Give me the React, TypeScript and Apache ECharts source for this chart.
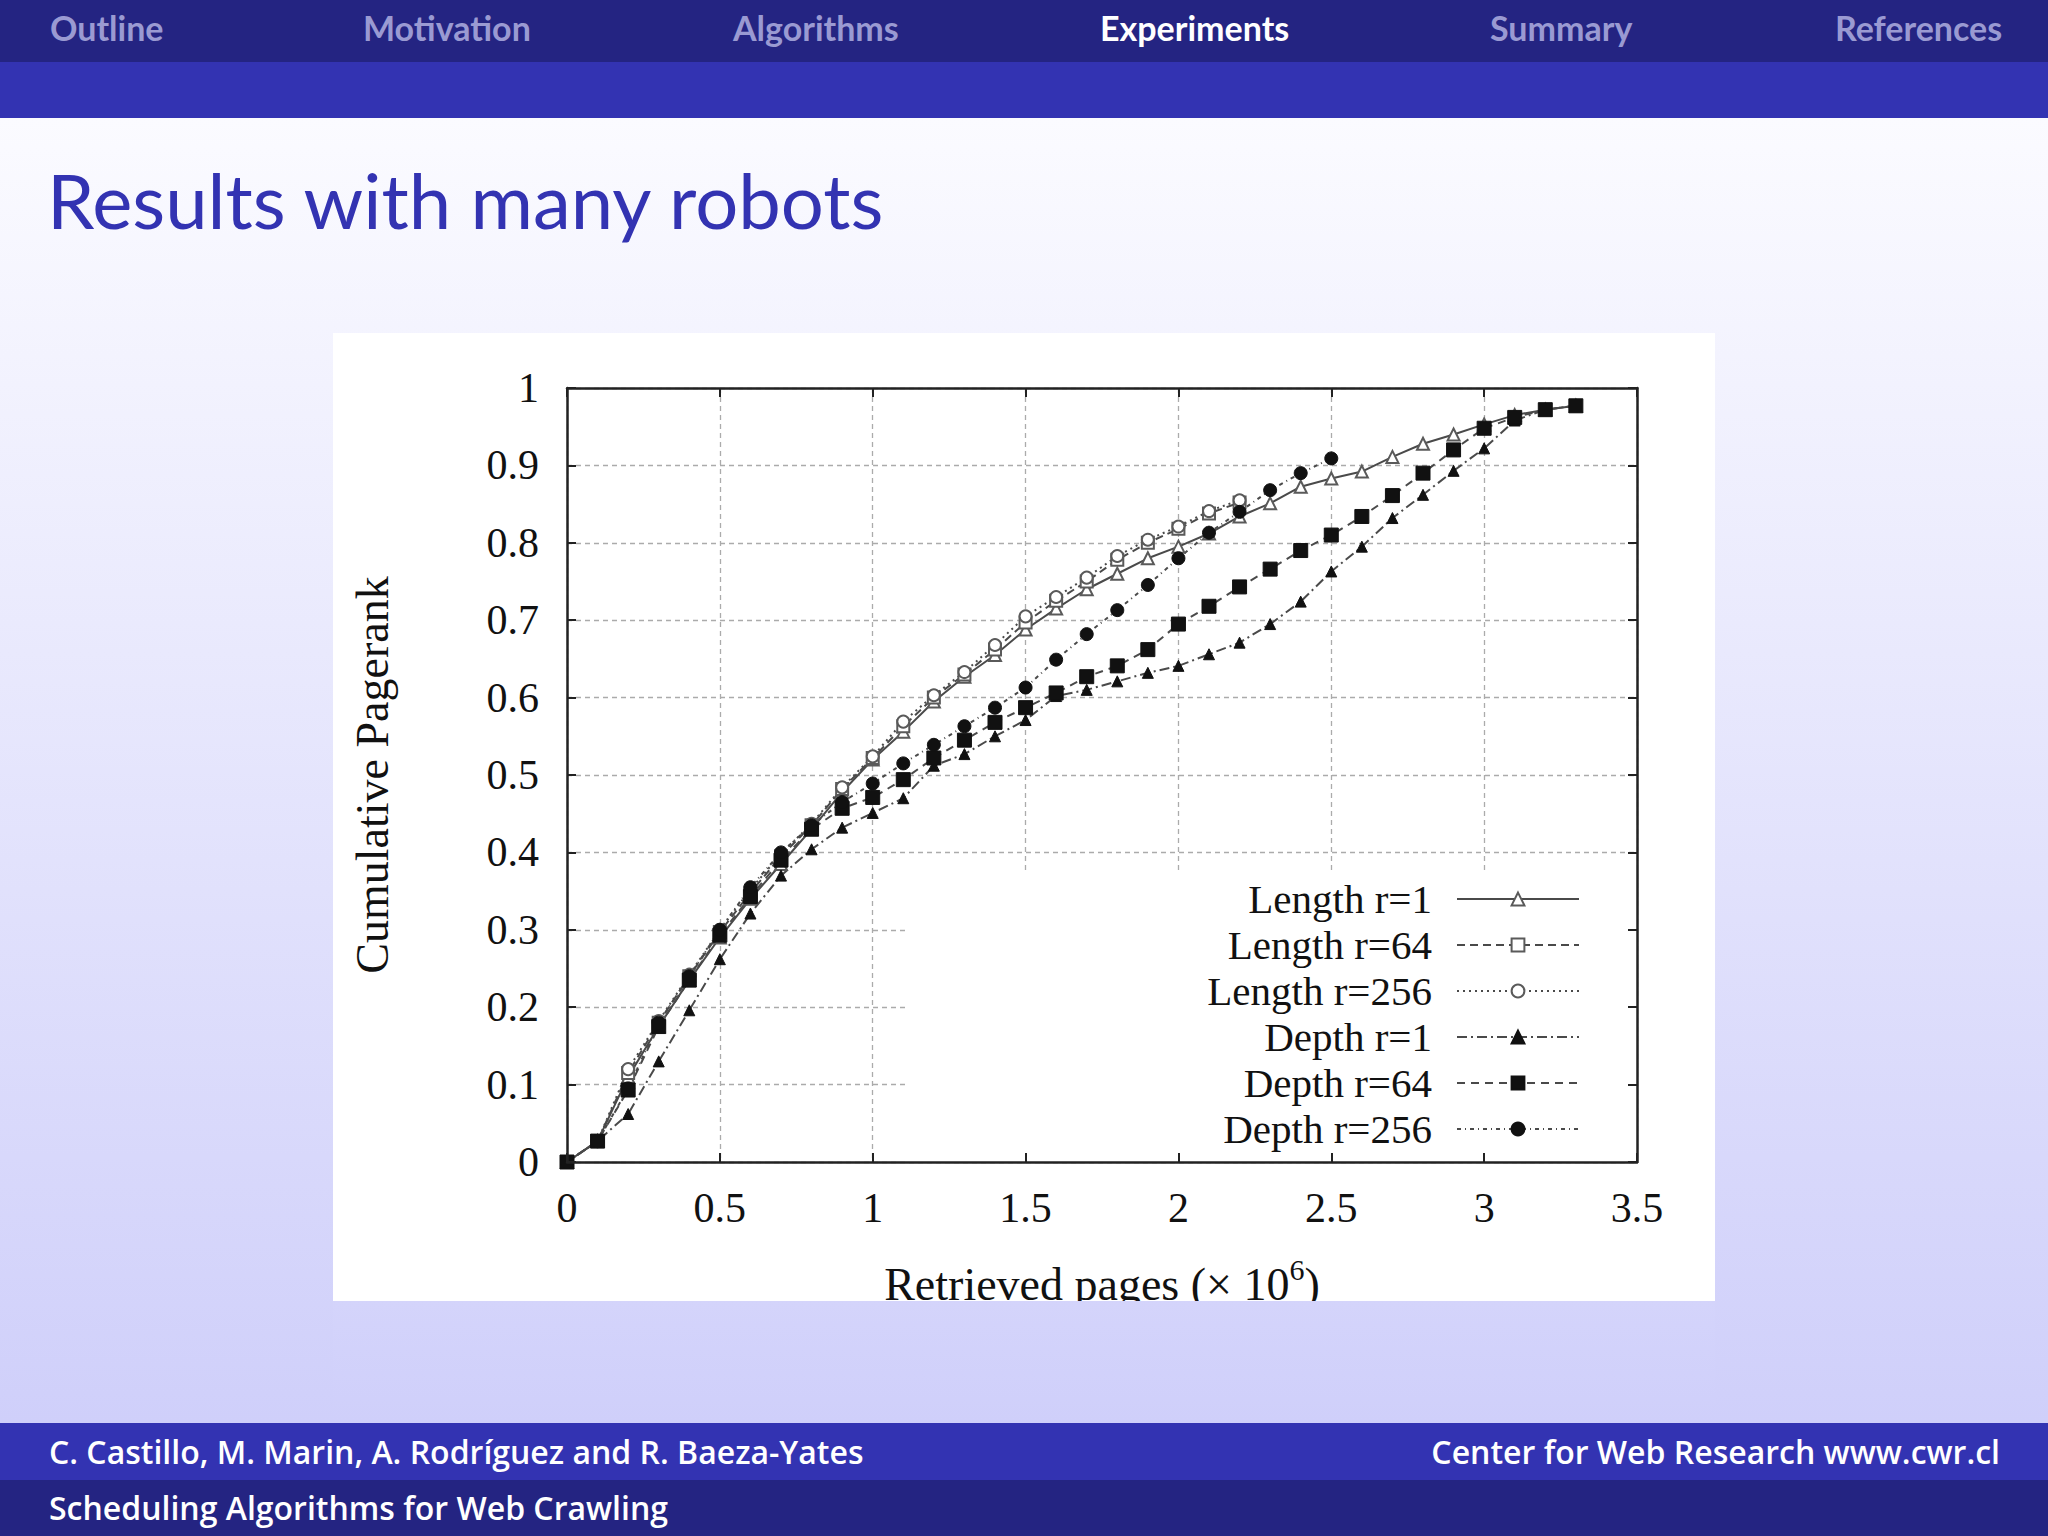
import React, { useEffect, useRef } from "react";
import * as echarts from "echarts";

// ---------- slide texts ----------
const navItems = ["Outline", "Motivation", "Algorithms", "Experiments", "Summary", "References"];
const navLeft = [50, 363, 733, 1100, 1490, 1835];
const activeNav = "Experiments";
const slideTitle = "Results with many robots";
const footerAuthors = "C. Castillo, M. Marin, A. Rodríguez and R. Baeza-Yates";
const footerCenter = "Center for Web Research www.cwr.cl";
const footerTalk = "Scheduling Algorithms for Web Crawling";

// ---------- chart data ----------
const xTickLabels = ["0", "0.5", "1", "1.5", "2", "2.5", "3", "3.5"];
const yTickLabels = ["0", "0.1", "0.2", "0.3", "0.4", "0.5", "0.6", "0.7", "0.8", "0.9", "1"];
const xAxisTitle = "Retrieved pages (× 10";
const yAxisTitle = "Cumulative Pagerank";

// retrieved pages (millions)
const pagesM = [
  0, 0.1, 0.2, 0.3, 0.4, 0.5, 0.6, 0.7, 0.8, 0.9, 1.0, 1.1, 1.2, 1.3, 1.4, 1.5, 1.6,
  1.7, 1.8, 1.9, 2.0, 2.1, 2.2, 2.3, 2.4, 2.5, 2.6, 2.7, 2.8, 2.9, 3.0, 3.1, 3.2, 3.3,
];

const seriesNames = ["Length r=1", "Length r=64", "Length r=256", "Depth r=1", "Depth r=64", "Depth r=256"];

const lengthR1 = [
  0, 0.027, 0.11, 0.175, 0.235, 0.29, 0.34, 0.385, 0.43, 0.478, 0.52, 0.556, 0.595, 0.627, 0.655, 0.688, 0.715,
  0.74, 0.76, 0.78, 0.795, 0.812, 0.834, 0.851, 0.8725, 0.883, 0.892, 0.911, 0.928, 0.94, 0.953, 0.965, 0.972, 0.977,
];
const lengthR64 = [
  0, 0.027, 0.115, 0.18, 0.24, 0.297, 0.348, 0.395, 0.435, 0.482, 0.522, 0.563, 0.6, 0.63, 0.662, 0.697, 0.725,
  0.75, 0.778, 0.8, 0.818, 0.838, 0.852,
];
const lengthR256 = [
  0, 0.027, 0.12, 0.182, 0.242, 0.3, 0.352, 0.398, 0.437, 0.484, 0.524, 0.569, 0.603, 0.633, 0.668, 0.705, 0.73,
  0.755, 0.783, 0.804, 0.821, 0.841, 0.855,
];
const depthR1 = [
  0, 0.027, 0.062, 0.13, 0.196, 0.262, 0.321, 0.37, 0.404, 0.432, 0.451, 0.47, 0.512, 0.527, 0.55, 0.571, 0.602,
  0.61, 0.621, 0.632, 0.641, 0.656, 0.671, 0.695, 0.724, 0.763, 0.795, 0.832, 0.862, 0.893, 0.922, 0.958, 0.972, 0.977,
];
const depthR64 = [
  0, 0.027, 0.093, 0.175, 0.235, 0.293, 0.343, 0.39, 0.43, 0.457, 0.471, 0.494, 0.522, 0.545, 0.568, 0.587, 0.606,
  0.627, 0.641, 0.662, 0.695, 0.718, 0.743, 0.766, 0.79, 0.81, 0.834, 0.861, 0.89, 0.92, 0.948, 0.962, 0.972, 0.977,
];
const depthR256 = [
  0, 0.027, 0.095, 0.18, 0.24, 0.3, 0.355, 0.4, 0.435, 0.465, 0.489, 0.515, 0.539, 0.563, 0.587, 0.613, 0.649,
  0.682, 0.713, 0.7455, 0.78, 0.813, 0.84, 0.868, 0.89, 0.909,
];

const SERIF = "'Liberation Serif', 'DejaVu Serif', serif";
const SANS = "Lato, 'Open Sans', sans-serif";
const FOOT = "'Open Sans', Lato, sans-serif";

const toPairs = (vals: number[]) => vals.map((v, i) => [pagesM[i], v]);

export default function App() {
  const ref = useRef<HTMLDivElement>(null);

  useEffect(() => {
    const chart = echarts.init(ref.current!, null, { renderer: "svg" });

    const GL = 567, GT = 388, GW = 1070, GH = 774;

    const lineBase = (name: string, vals: number[], lineType: any, symbol: string, size: number, filled: boolean) => ({
      type: "line",
      name,
      data: toPairs(vals),
      xAxisIndex: 0,
      yAxisIndex: 0,
      z: 3,
      symbol,
      symbolSize: size,
      showAllSymbol: true,
      lineStyle: { color: "#4a4a4a", width: 2, type: lineType },
      itemStyle: filled
        ? { color: "#111", borderColor: "#111", borderWidth: 1 }
        : { color: "#fff", borderColor: "#5a5a5a", borderWidth: 2 },
      emphasis: { disabled: true },
    });

    const frameLine = { show: true, onZero: false, lineStyle: { color: "#222", width: 2.5 } };
    const frameTick = { show: true, inside: true, length: 9, lineStyle: { color: "#222", width: 2 } };
    const labelStyle = { fontFamily: SERIF, fontSize: 42, color: "#111" };
    const gridLine = { show: true, lineStyle: { color: "#ababab", width: 1.3, type: [5, 4] } };

    const graphicEls: any[] = [
      // page background
      {
        type: "rect", z: 0, silent: true,
        shape: { x: 0, y: 118, width: 2048, height: 1305 },
        style: {
          fill: new echarts.graphic.LinearGradient(0, 0, 0, 1, [
            { offset: 0, color: "#fbfbff" },
            { offset: 1, color: "#cfcffa" },
          ]),
        },
      },
      // header bars
      { type: "rect", z: 0, silent: true, shape: { x: 0, y: 0, width: 2048, height: 62 }, style: { fill: "#242482" } },
      { type: "rect", z: 0, silent: true, shape: { x: 0, y: 62, width: 2048, height: 56 }, style: { fill: "#3333b2" } },
      // footer bars
      { type: "rect", z: 0, silent: true, shape: { x: 0, y: 1423, width: 2048, height: 57 }, style: { fill: "#3333b2" } },
      { type: "rect", z: 0, silent: true, shape: { x: 0, y: 1480, width: 2048, height: 56 }, style: { fill: "#242482" } },
      // white picture box
      { type: "rect", z: 0, silent: true, shape: { x: 333, y: 333, width: 1382, height: 968 }, style: { fill: "#ffffff" } },
      // opaque key box
      { type: "rect", z: 2, silent: true, shape: { x: 905, y: 872, width: GL + GW - 905, height: GT + GH - 872 }, style: { fill: "#ffffff" } },
      // clip of the axis title below the picture box
      {
        type: "rect", z: 8, silent: true,
        shape: { x: 333, y: 1301, width: 1382, height: 122 },
        style: {
          fill: new echarts.graphic.LinearGradient(0, 0, 0, 1, [
            { offset: 0, color: "#d4d4fb" },
            { offset: 1, color: "#cfcffa" },
          ]),
        },
      },
      // title
      {
        type: "text", z: 1, silent: true, x: 47, y: 199,
        style: { text: slideTitle, fill: "#3333b2", font: `400 76px ${SANS}`, align: "left", verticalAlign: "middle" },
      },
      // footer texts
      {
        type: "text", z: 1, silent: true, x: 49, y: 1451,
        style: { text: footerAuthors, fill: "#ffffff", font: `600 32px ${FOOT}`, align: "left", verticalAlign: "middle" },
      },
      {
        type: "text", z: 1, silent: true, x: 2000, y: 1451,
        style: { text: footerCenter, fill: "#ffffff", font: `600 32px ${FOOT}`, align: "right", verticalAlign: "middle" },
      },
      {
        type: "text", z: 1, silent: true, x: 49, y: 1507,
        style: { text: footerTalk, fill: "#ffffff", font: `600 32px ${FOOT}`, align: "left", verticalAlign: "middle" },
      },
    ];
    navItems.forEach((t, i) => {
      graphicEls.push({
        type: "text", z: 1, silent: true, x: navLeft[i], y: 27,
        style: {
          text: t,
          fill: t === activeNav ? "#ffffff" : "#9a9ad2",
          font: `700 34px ${SANS}`,
          align: "left",
          verticalAlign: "middle",
        },
      });
    });

    const option: any = {
      animation: false,
      textStyle: { fontFamily: SERIF },
      grid: { left: GL, top: GT, width: GW, height: GH, containLabel: false, show: false },
      graphic: { elements: graphicEls },
      legend: {
        data: seriesNames,
        orient: "vertical",
        align: "right",
        right: 2048 - 1580,
        top: 876,
        itemWidth: 122,
        itemHeight: 16,
        itemGap: 0,
        padding: 0,
        selectedMode: false,
        z: 6,
        textStyle: { fontFamily: SERIF, fontSize: 41, color: "#111", lineHeight: 46, padding: [0, 20, 0, 0] },
      },
      xAxis: [
        {
          type: "value", min: 0, max: 3.5, interval: 0.5, position: "bottom", z: 1,
          axisLine: { show: false }, axisTick: { show: false }, axisLabel: { show: false },
          splitLine: gridLine,
        },
        {
          type: "value", min: 0, max: 3.5, interval: 0.5, position: "bottom", z: 5,
          axisLine: frameLine, axisTick: frameTick, splitLine: { show: false },
          axisLabel: {
            ...labelStyle, margin: 25,
            formatter: (v: number) => xTickLabels[Math.round(v / 0.5)] ?? "",
          },
          name: `{t|${xAxisTitle}}{s|6}{t|)}`,
          nameLocation: "middle",
          nameGap: 92,
          nameTextStyle: {
            ...labelStyle,
            rich: {
              t: { fontFamily: SERIF, fontSize: 46, color: "#111" },
              s: { fontFamily: SERIF, fontSize: 30, color: "#111", padding: [0, 0, 30, 0] },
            },
          },
        },
        {
          type: "value", min: 0, max: 3.5, interval: 0.5, position: "top", z: 5,
          axisLine: frameLine, axisTick: frameTick, axisLabel: { show: false }, splitLine: { show: false },
        },
      ],
      yAxis: [
        {
          type: "value", min: 0, max: 1, interval: 0.1, position: "left", z: 1,
          axisLine: { show: false }, axisTick: { show: false }, axisLabel: { show: false },
          splitLine: gridLine,
        },
        {
          type: "value", min: 0, max: 1, interval: 0.1, position: "left", z: 5,
          axisLine: frameLine, axisTick: frameTick, splitLine: { show: false },
          axisLabel: {
            ...labelStyle, margin: 28,
            formatter: (v: number) => yTickLabels[Math.round(v * 10)] ?? "",
          },
          name: yAxisTitle,
          nameLocation: "middle",
          nameGap: 172,
          nameRotate: 90,
          nameTextStyle: { ...labelStyle, fontSize: 46 },
        },
        {
          type: "value", min: 0, max: 1, interval: 0.1, position: "right", z: 5,
          axisLine: frameLine, axisTick: frameTick, axisLabel: { show: false }, splitLine: { show: false },
        },
      ],
      series: [
        lineBase(seriesNames[0], lengthR1, "solid", "triangle", 12, false),
        lineBase(seriesNames[1], lengthR64, [8, 5], "rect", 12, false),
        lineBase(seriesNames[2], lengthR256, [2, 4], "circle", 12, false),
        lineBase(seriesNames[3], depthR1, [10, 4, 2, 4], "triangle", 11, true),
        lineBase(seriesNames[4], depthR64, [8, 6], "rect", 14, true),
        lineBase(seriesNames[5], depthR256, [4, 4, 1, 4], "circle", 13, true),
      ],
    };

    chart.setOption(option);
    return () => chart.dispose();
  }, []);

  return (
    <div
      ref={ref}
      style={{ position: "fixed", left: 0, top: 0, width: 2048, height: 1536, background: "#ffffff" }}
    />
  );
}
